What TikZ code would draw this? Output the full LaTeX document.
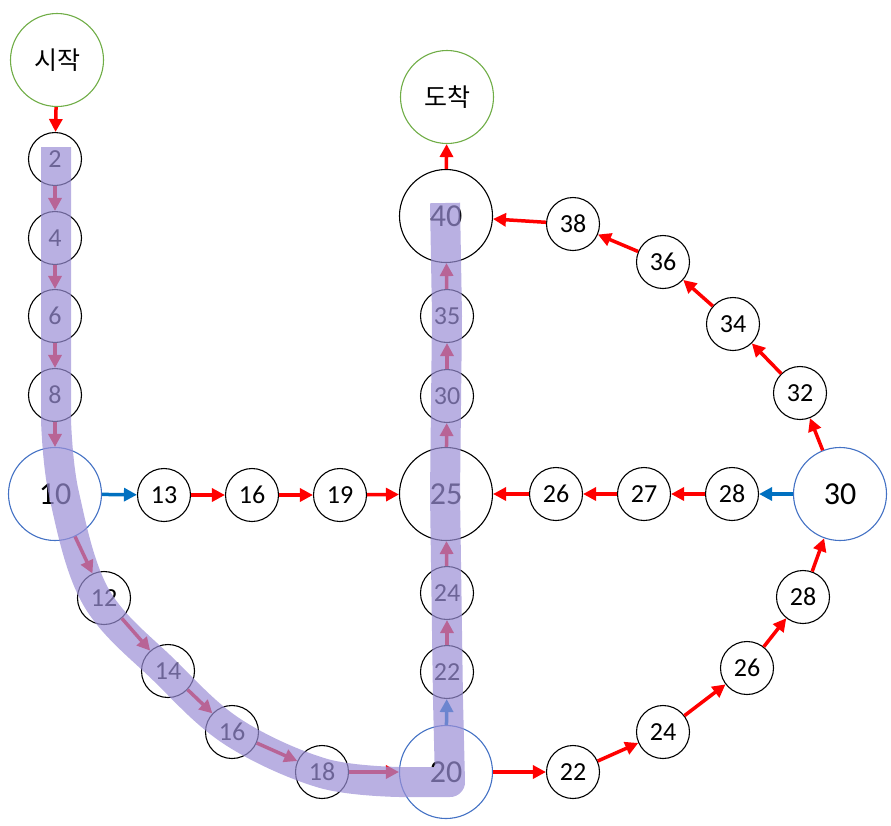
\documentclass[tikz,border=0pt]{standalone}
\usepackage{fontspec}
\setmainfont{Carlito}
\newfontfamily\krfont{Noto Sans CJK KR}
\usetikzlibrary{arrows.meta}
\definecolor{BoardRed}{HTML}{FF0000}
\definecolor{BoardBlue}{HTML}{0070C0}
\definecolor{BoardGreen}{HTML}{70AD47}
\definecolor{BoardRing}{HTML}{4472C4}
\definecolor{BoardLane}{RGB}{155,143,214}

\begin{document}
\begin{tikzpicture}[x=1pt,y=-1pt,
    cell/.style={circle,draw,line width=1.1pt,minimum size=53pt,inner sep=0pt,font=\fontsize{26}{26}\selectfont},
    bigcell/.style={cell,minimum size=93pt,font=\fontsize{32}{32}\selectfont},
    endcell/.style={bigcell,draw=BoardGreen,font=\krfont\fontsize{25}{25}\selectfont},
    turncell/.style={bigcell,draw=BoardRing},
    arr/.style={-{Triangle[length=13pt,width=13pt]},line width=3.5pt,BoardRed},
    cut/.style={arr,BoardBlue},
    lane/.style={line width=30pt,BoardLane,opacity=0.7,line join=round}
  ]
    \useasboundingbox (0,0) rectangle (891,825);
    % start and goal
    \node[endcell] (start) at (57,60) {시작};
    \node[endcell] (goal) at (447,97) {도착};
    % left column
    \node[cell] (l2) at (55,159) {2};
    \node[cell] (l4) at (55,238) {4};
    \node[cell] (l6) at (55,316) {6};
    \node[cell] (l8) at (55,395) {8};
    \node[turncell] (c10) at (55,494) {10};
    % middle row
    \node[cell] (h13) at (164,495) {13};
    \node[cell] (h16) at (252,495) {16};
    \node[cell] (h19) at (340,495) {19};
    \node[bigcell] (m25) at (446,494) {25};
    \node[cell] (r26) at (556,494) {26};
    \node[cell] (r27) at (644,494) {27};
    \node[cell] (r28) at (732,494) {28};
    \node[turncell] (c30) at (840,494) {30};
    % lower left diagonal
    \node[cell] (d12) at (104,598) {12};
    \node[cell] (d14) at (168,671) {14};
    \node[cell] (d16) at (232,732) {16};
    \node[cell] (d18) at (322,772) {18};
    \node[turncell] (c20) at (446,772) {20};
    % centre column
    \node[cell] (v22) at (447,672) {22};
    \node[cell] (v24) at (447,593) {24};
    \node[cell] (v30) at (447,396) {30};
    \node[cell] (v35) at (447,316) {35};
    \node[bigcell] (c40) at (446,216) {40};
    % outer right
    \node[cell] (b22) at (573,772) {22};
    \node[cell] (b24) at (663,732) {24};
    \node[cell] (b26) at (747,668) {26};
    \node[cell] (b28) at (803,597) {28};
    \node[cell] (t32) at (800,393) {32};
    \node[cell] (t34) at (733,324) {34};
    \node[cell] (t36) at (663,262) {36};
    \node[cell] (t38) at (573,224) {38};
    % moves
    \draw[arr] (start) -- (l2);
    \draw[arr] (l2) -- (l4);
    \draw[arr] (l4) -- (l6);
    \draw[arr] (l6) -- (l8);
    \draw[arr] (l8) -- (c10);
    \draw[cut] (c10) -- (h13);
    \draw[arr] (h13) -- (h16);
    \draw[arr] (h16) -- (h19);
    \draw[arr] (h19) -- (m25);
    \draw[arr] (c10) -- (d12);
    \draw[arr] (d12) -- (d14);
    \draw[arr] (d14) -- (d16);
    \draw[arr] (d16) -- (d18);
    \draw[arr] (d18) -- (c20);
    \draw[cut] (c20) -- (v22);
    \draw[arr] (v22) -- (v24);
    \draw[arr] (v24) -- (m25);
    \draw[arr] (m25) -- (v30);
    \draw[arr] (v30) -- (v35);
    \draw[arr] (v35) -- (c40);
    \draw[arr] (c40) -- (goal);
    \draw[arr] (c20) -- (b22);
    \draw[arr] (b22) -- (b24);
    \draw[arr] (b24) -- (b26);
    \draw[arr] (b26) -- (b28);
    \draw[arr] (b28) -- (c30);
    \draw[cut] (c30) -- (r28);
    \draw[arr] (r28) -- (r27);
    \draw[arr] (r27) -- (r26);
    \draw[arr] (r26) -- (m25);
    \draw[arr] (c30) -- (t32);
    \draw[arr] (t32) -- (t34);
    \draw[arr] (t34) -- (t36);
    \draw[arr] (t36) -- (t38);
    \draw[arr] (t38) -- (c40);
    % highlighted route
    \draw[lane] (56,147) -- (56,420)
      -- plot[smooth,tension=0.6] coordinates {(56,420) (64,494) (96,597) (165,671) (233,732) (322,773) (400,782)}
      -- (450,782) -- (448,700) -- (445,494) -- (447,316) -- (445,203);
\end{tikzpicture}
\end{document}
